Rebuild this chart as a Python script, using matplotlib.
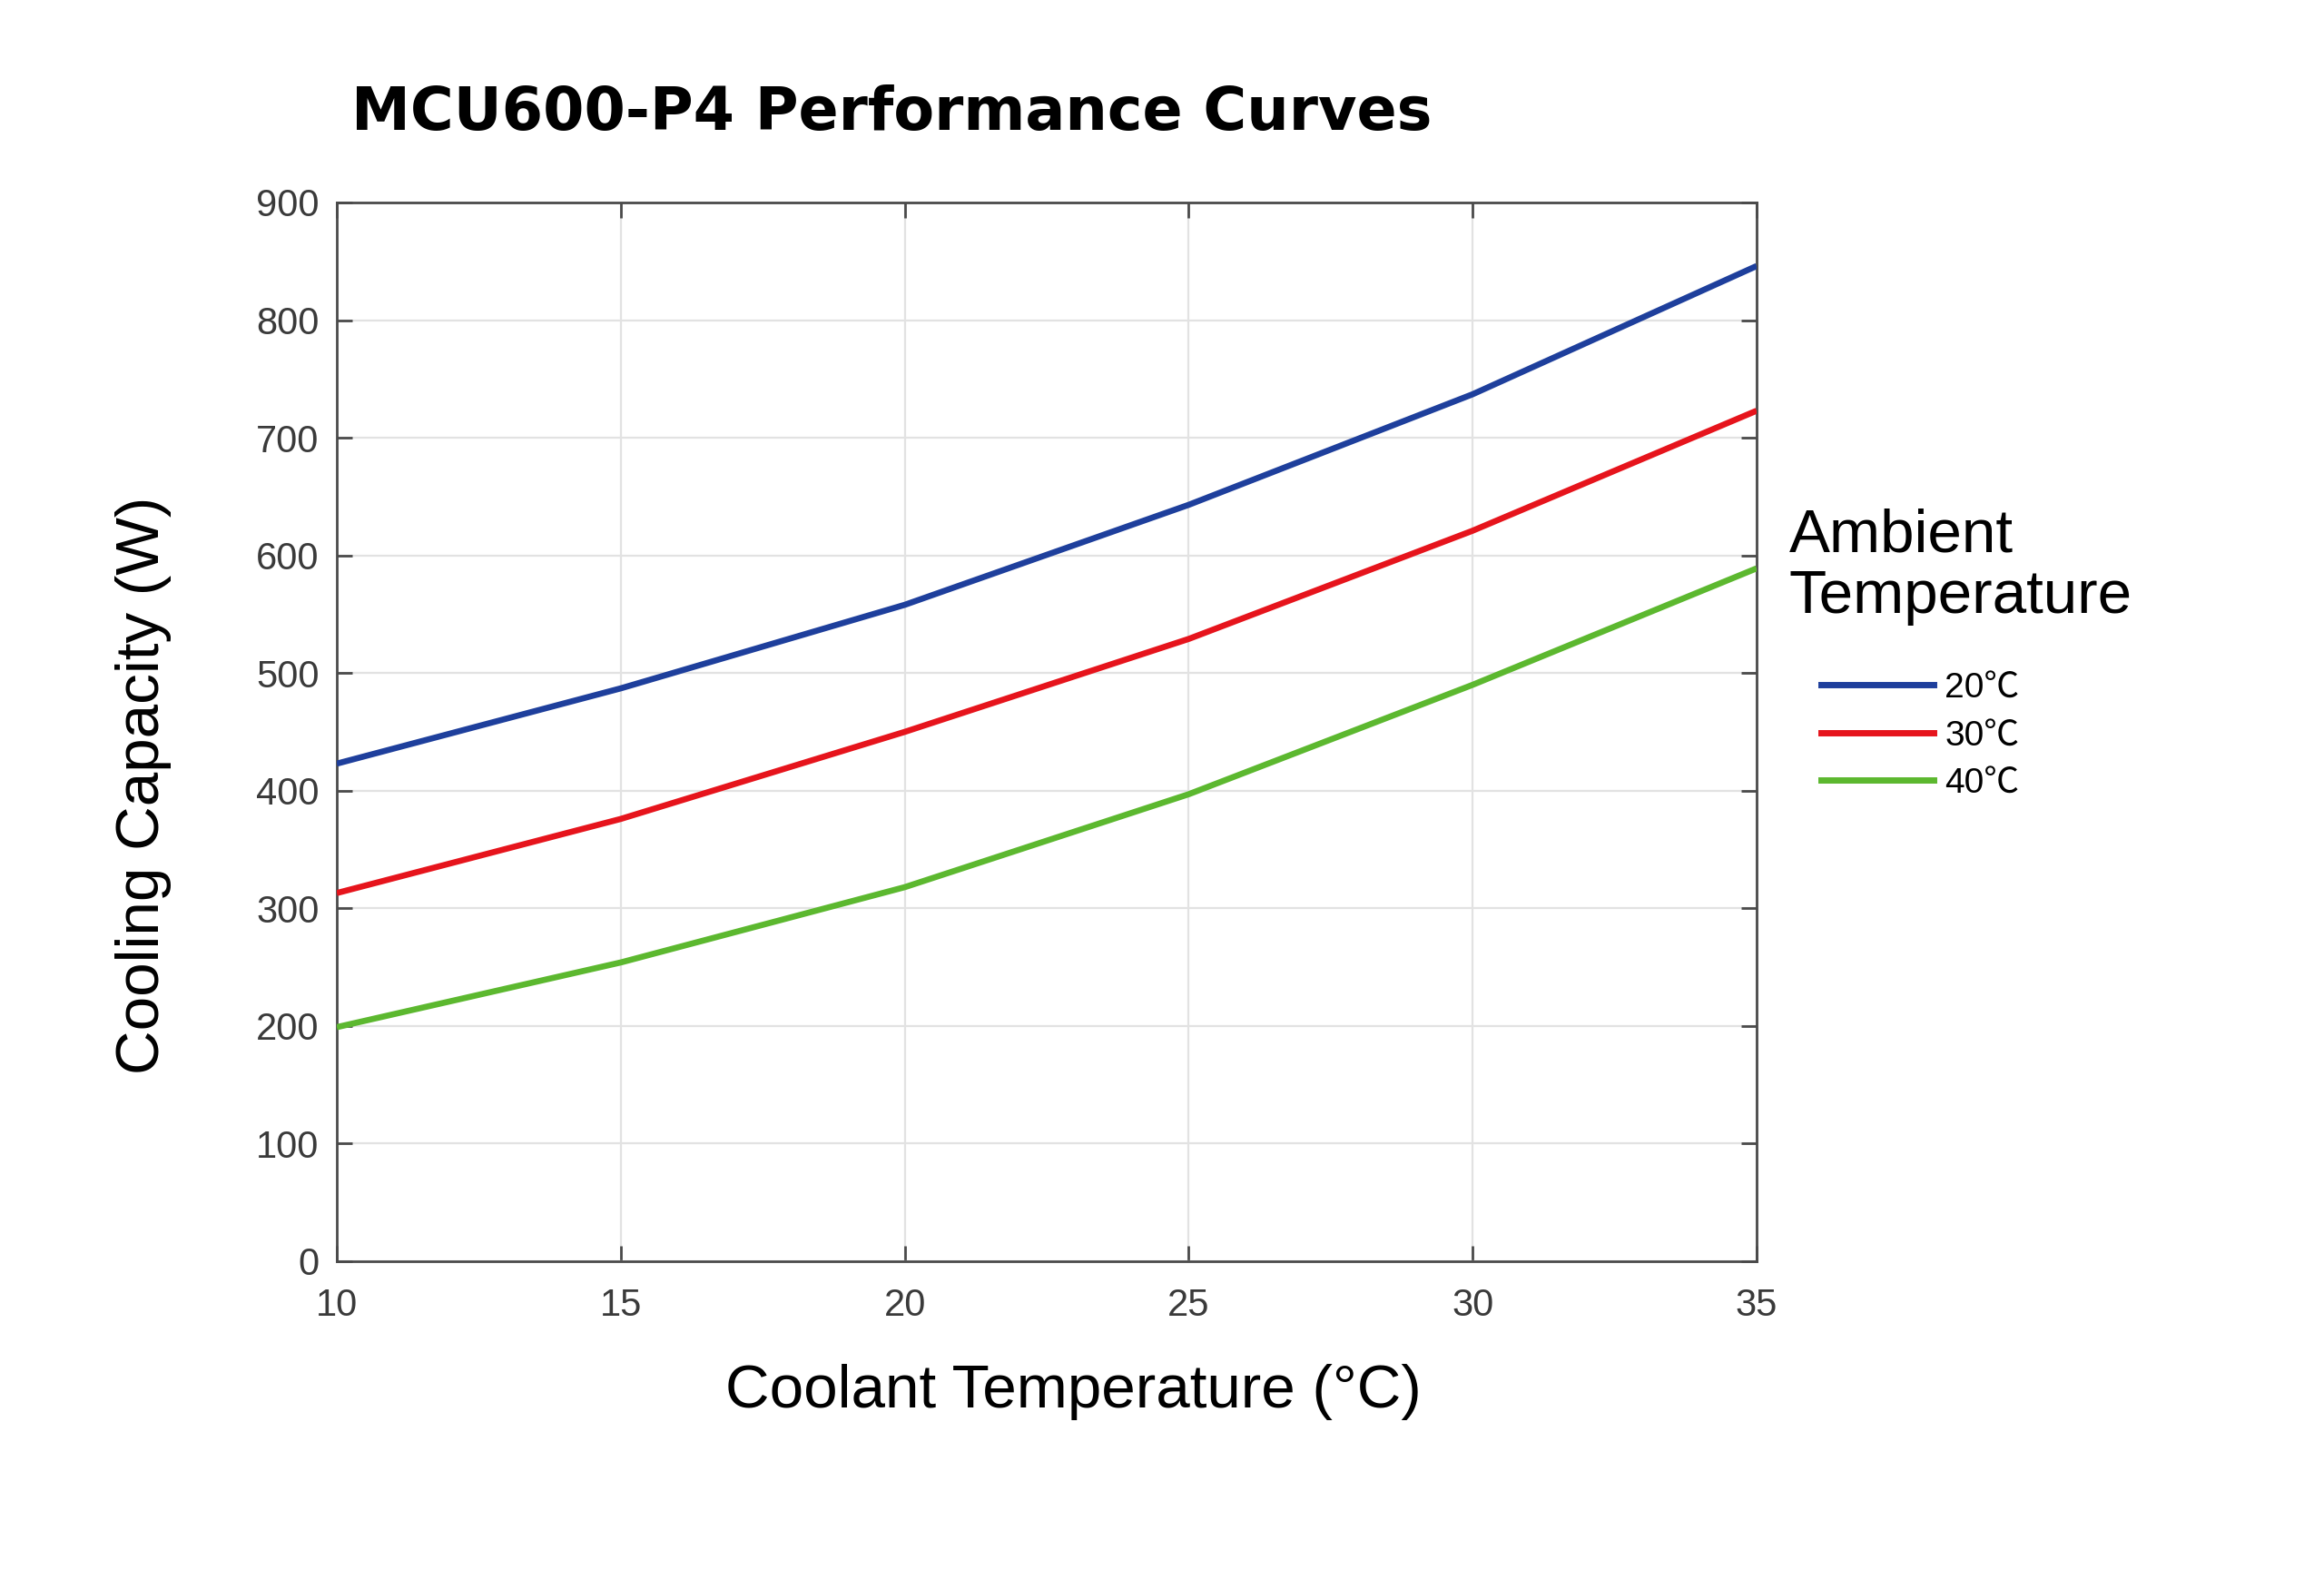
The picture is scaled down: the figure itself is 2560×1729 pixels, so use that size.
import matplotlib
matplotlib.use("Agg")
import matplotlib.pyplot as plt
from matplotlib.lines import Line2D

coolant_temp = [10, 15, 20, 25, 30, 35]
cap_20 = [423, 487, 558, 643, 737, 846]
cap_30 = [313, 376, 450, 529, 621, 723]
cap_40 = [199, 254, 318, 397, 490, 589]
series_labels = ["20℃", "30℃", "40℃"]
series_colors = ["#1e3f9c", "#e6141c", "#5cb82f"]
x_ticks = [10, 15, 20, 25, 30, 35]
y_ticks = [0, 100, 200, 300, 400, 500, 600, 700, 800, 900]

W, H = 2560, 1729
fig = plt.figure(figsize=(W / 100, H / 100), dpi=100)
fig.patch.set_facecolor("white")

ax = fig.add_axes([371 / W, 1 - 1389 / H, (1935 - 371) / W, (1389 - 223) / H])
for ys, c in zip([cap_20, cap_30, cap_40], series_colors):
    ax.plot(coolant_temp, ys, color=c, lw=4.8, solid_capstyle="butt",
            solid_joinstyle="round", zorder=3)

ax.set_xlim(10, 35)
ax.set_ylim(0, 900)
ax.set_xticks(x_ticks)
ax.set_yticks(y_ticks)
ax.grid(True, color="#e2e2e2", lw=1.6, zorder=0)
for s in ax.spines.values():
    s.set_color("#4a4a4a")
    s.set_linewidth(2.0)
ax.tick_params(direction="in", length=12, width=2.0, color="#4a4a4a",
               top=True, right=True, labelsize=30, labelcolor="#3a3a3a")
ax.tick_params(axis="x", pad=21)
ax.tick_params(axis="y", pad=14)
for lab in ax.get_xticklabels() + ax.get_yticklabels():
    lab.set_family("Liberation Sans")

fig.text(387 / W, 1 - 143 / H, "MCU600-P4 Performance Curves", ha="left",
         va="baseline", fontsize=47, fontweight="bold", family="DejaVu Sans",
         color="black")
fig.text(158 / W, 1 - 865 / H, "Cooling Capacity (W)", rotation=90,
         ha="center", va="center", fontsize=48.5, family="Liberation Sans",
         color="black")
fig.text(1182 / W, 1 - 1533 / H, "Coolant Temperature (°C)", ha="center",
         va="center", fontsize=48.5, family="Liberation Sans", color="black")
fig.text(1971 / W, 1 - 607 / H, "Ambient", ha="left", va="baseline",
         fontsize=48.5, family="Liberation Sans", color="black")
fig.text(1971 / W, 1 - 675 / H, "Temperature", ha="left", va="baseline",
         fontsize=48.5, family="Liberation Sans", color="black")

handles = [Line2D([], [], color=c, lw=5) for c in series_colors]
leg = fig.legend(handles, series_labels, loc="upper left",
                 bbox_to_anchor=(2006 / W, 1 - 740 / H), frameon=False,
                 prop={"family": ["Liberation Sans", "Noto Sans CJK SC"], "size": 28},
                 handlelength=3.2, handletextpad=0.3, labelspacing=0.42,
                 borderpad=0, borderaxespad=0)

fig.savefig("out.png", dpi=100, facecolor="white")
